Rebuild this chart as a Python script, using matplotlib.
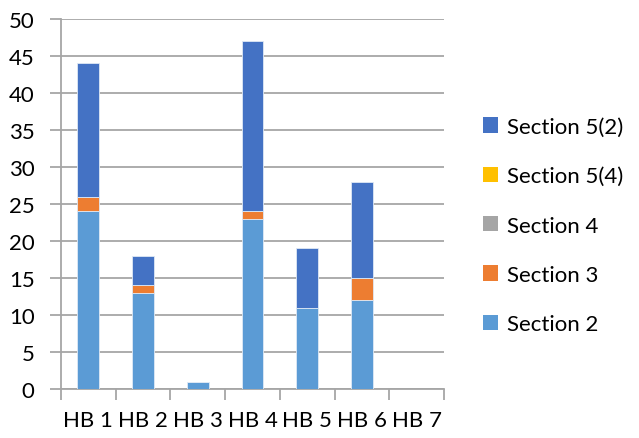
import numpy as np
import matplotlib
matplotlib.use("Agg")
import matplotlib.pyplot as plt
from matplotlib.patches import Patch

categories = ["HB 1", "HB 2", "HB 3", "HB 4", "HB 5", "HB 6", "HB 7"]
section_2 = [24, 13, 1, 23, 11, 12, 0]
section_3 = [2, 1, 0, 1, 0, 3, 0]
section_4 = [0, 0, 0, 0, 0, 0, 0]
section_5_4 = [0, 0, 0, 0, 0, 0, 0]
section_5_2 = [18, 4, 0, 23, 8, 13, 0]

series = [
    ("Section 2", section_2, "#5B9BD5"),
    ("Section 3", section_3, "#ED7D31"),
    ("Section 4", section_4, "#A5A5A5"),
    ("Section 5(4)", section_5_4, "#FFC000"),
    ("Section 5(2)", section_5_2, "#4472C4"),
]

plt.rcParams['font.family'] = ['Lato', 'DejaVu Sans']
fs = 16

fig = plt.figure(figsize=(6.39, 4.39), dpi=100)
ax = fig.add_axes([61 / 639, 1 - 390 / 439, 383 / 639, 370 / 439])

x = np.arange(len(categories))
bottom = np.zeros(len(categories))
for name, vals, color in series:
    vals = np.array(vals, dtype=float)
    ax.bar(x, vals, width=0.4, bottom=bottom, color=color,
           edgecolor="#dfe9f5", linewidth=0.6, zorder=3)
    bottom += vals

ax.set_xlim(-0.5, len(categories) - 0.5)
ax.set_ylim(0, 50)
ax.set_yticks(range(0, 51, 5))
ax.grid(axis="y", color="#A6A6A6", linewidth=1.3, zorder=0)

ax.set_xticks(x)
ax.set_xticklabels(categories)
ax.set_xticks(np.arange(-0.5, len(categories)), minor=True)
ax.tick_params(axis="x", which="major", length=0, pad=15, labelsize=fs)
ax.tick_params(axis="x", which="minor", length=8, width=1.3, color="#A6A6A6")
ax.tick_params(axis="y", length=8, width=1.3, color="#A6A6A6", labelsize=fs, pad=11)

for side in ["top", "right"]:
    ax.spines[side].set_visible(False)
for side in ["left", "bottom"]:
    ax.spines[side].set_color("#A6A6A6")
    ax.spines[side].set_linewidth(1.3)

handles = [Patch(facecolor=c, label=n) for n, v, c in series][::-1]
fig.legend(handles=handles, loc="upper left", bbox_to_anchor=(474 / 639, 1 - 109 / 439),
           frameon=False, fontsize=fs, handlelength=0.68, handleheight=0.68,
           handletextpad=0.4, labelspacing=1.32, borderaxespad=0)

fig.savefig("out.png", dpi=100)
